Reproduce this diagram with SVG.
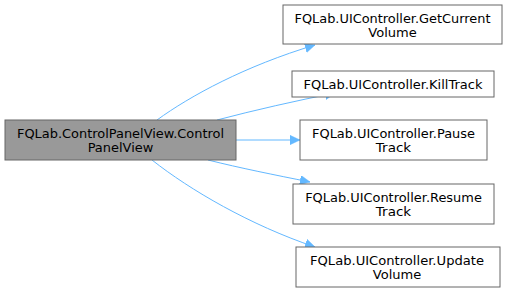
<svg xmlns="http://www.w3.org/2000/svg" width="508" height="293" viewBox="0 0 508 293">
<style>
.n{stroke:#666666;stroke-width:1;fill:#ffffff}
.f{fill:#999999}
text{font-family:"DejaVu Sans",sans-serif;font-size:12.5px;fill:#000000;text-anchor:middle}
.e{fill:none;stroke:#63b8ff;stroke-width:1;marker-end:url(#a)}
</style>
<defs>
<marker id="a" markerUnits="userSpaceOnUse" markerWidth="12" markerHeight="11" refX="10" refY="4.7" orient="auto">
<path d="M0,0 L10,4.7 L0,9.4 z" fill="#63b8ff" stroke="#63b8ff" stroke-width="0.5"/>
</marker>
</defs>
<rect width="508" height="293" fill="#ffffff"/>
<g id="edges">
<path class="e" d="M157,120 C190,96 245,66 315,45"/>
<path class="e" d="M217,120 C255,110 295,101 335,93"/>
<path class="e" d="M236,140 L300,140"/>
<path class="e" d="M208,160 C240,168 275,175 310,182"/>
<path class="e" d="M152,160 C190,190 250,225 315,247"/>
</g>
<g id="node_main">
<rect class="n f" x="5" y="120" width="231" height="40"/>
<text x="120.5" y="138" textLength="207" lengthAdjust="spacingAndGlyphs">FQLab.ControlPanelView.Control</text>
<text x="120.5" y="152" textLength="65.7" lengthAdjust="spacingAndGlyphs">PanelView</text>
</g>
<g id="node_getcurrentvolume">
<rect class="n" x="283" y="5" width="219" height="39"/>
<text x="392.5" y="22.5" textLength="196" lengthAdjust="spacingAndGlyphs">FQLab.UIController.GetCurrent</text>
<text x="392.5" y="36.5" textLength="48.5" lengthAdjust="spacingAndGlyphs">Volume</text>
</g>
<g id="node_killtrack">
<rect class="n" x="292" y="71" width="202" height="26"/>
<text x="393" y="88.5" textLength="179" lengthAdjust="spacingAndGlyphs">FQLab.UIController.KillTrack</text>
</g>
<g id="node_pausetrack">
<rect class="n" x="300" y="120" width="187" height="40"/>
<text x="393.5" y="138" textLength="163" lengthAdjust="spacingAndGlyphs">FQLab.UIController.Pause</text>
<text x="393.5" y="152" textLength="35.3" lengthAdjust="spacingAndGlyphs">Track</text>
</g>
<g id="node_resumetrack">
<rect class="n" x="293" y="184" width="201" height="40"/>
<text x="393.5" y="202" textLength="176.7" lengthAdjust="spacingAndGlyphs">FQLab.UIController.Resume</text>
<text x="393.5" y="216" textLength="35.3" lengthAdjust="spacingAndGlyphs">Track</text>
</g>
<g id="node_updatevolume">
<rect class="n" x="296" y="247" width="204" height="40"/>
<text x="397" y="265" textLength="174" lengthAdjust="spacingAndGlyphs">FQLab.UIController.Update</text>
<text x="397" y="279" textLength="48.5" lengthAdjust="spacingAndGlyphs">Volume</text>
</g>
</svg>
